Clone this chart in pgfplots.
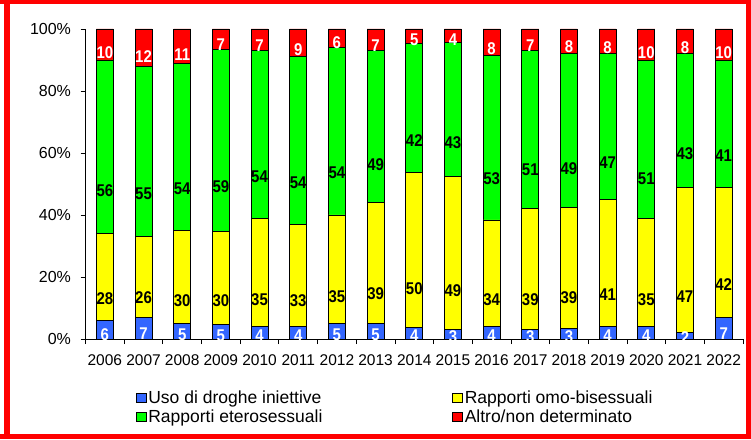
\documentclass[border=0pt]{standalone}
\usepackage{pgfplots}
\usepackage{pgfplotstable}
\pgfplotsset{compat=1.18}
\usepackage{fontspec}
\setmainfont{Liberation Sans}
\definecolor{cblue}{HTML}{3366FF}
\definecolor{cyellow}{HTML}{FFFF00}
\definecolor{cgreen}{HTML}{00FF00}
\definecolor{cred}{HTML}{FF0000}
\pgfplotstableread{
x  a    al  b     bl  c     cl  d    dl
0  6    6   28    28  56    56  10   10
1  7    7   26    26  55    55  12   12
2  5    5   30    30  54    54  11   11
3  4.8  5   29.8  30  58.7  59  6.7  7
4  4    4   35    35  54    54  7    7
5  4    4   33    33  54    54  9    9
6  5    5   35    35  54    54  6    6
7  5    5   39    39  49    49  7    7
8  3.8  4   50    50  41.4  42  4.8  5
9  3.2  3   49.2  49  43.2  43  4.4  4
10 4    4   34.4  34  53.2  53  8.4  8
11 3    3   39    39  51    51  7    7
12 3.4  3   39.1  39  49.7  49  7.8  8
13 4    4   41    41  47    47  8    8
14 4    4   35    35  51    51  10   10
15 2    2   47    47  43    43  8    8
16 7    7   42    42  41    41  10   10
}\data
\begin{document}
\begin{tikzpicture}[x=1pt,y=1pt]
\fill[white] (0,0) rectangle (751,439);
\fill[red] (0,435) rectangle (751,439);
\fill[red] (0,0) rectangle (751,5);
\fill[red] (4,0) rectangle (10,439);
\fill[red] (746,0) rectangle (751,439);
\begin{axis}[
  at={(85.5pt,100pt)}, anchor=south west,
  scale only axis, width=657.5pt, height=310pt,
  ybar stacked, bar width=17pt,
  xmin=-0.5, xmax=16.5, ymin=0, ymax=100,
  axis x line*=bottom, axis y line*=left,
  axis line style={black, line width=0.8pt},
  xtick={0,...,16},
  xticklabels={2006,2007,2008,2009,2010,2011,2012,2013,2014,2015,2016,2017,2018,2019,2020,2021,2022},
  major x tick style={draw=none},
  minor xtick={-0.5,0.5,...,16.5},
  minor x tick style={black, line width=0.8pt},
  minor tick length=5pt,
  ytick={0,20,40,60,80,100},
  yticklabels={0\%,20\%,40\%,60\%,80\%,100\%},
  y tick style={black, line width=0.8pt},
  major tick length=5pt,
  tick align=outside,
  xticklabel style={font=\fontsize{15.5}{18}\selectfont, yshift=-7pt},
  yticklabel style={font=\fontsize{16}{19}\selectfont, xshift=-6pt},
  point meta=explicit symbolic,
  nodes near coords={\scalebox{0.88}[1]{\pgfplotspointmeta}},
  nodes near coords style={font=\bfseries\fontsize{17}{19}\selectfont, anchor=center, inner sep=0pt},
  legend columns=2,
  legend cell align=left,
  legend style={draw=none, fill=none, at={(0.072,-0.155)}, anchor=north west,
    font=\fontsize{17.5}{20}\selectfont, row sep=0pt,
    /tikz/every even column/.append style={column sep=128pt}},
  legend image code/.code={\draw[#1,draw=black,line width=0.8pt] (0pt,-4.5pt) rectangle (9.5pt,4.5pt);},
]
\addplot[fill=cblue, draw=black, line width=0.8pt,
  visualization depends on={\thisrow{a} \as \rawy},
  every node near coord/.append style={text=white, yshift={-0.775pt*\rawy}}]
  table[x=x, y=a, meta=al] {\data};
\addplot[fill=cyellow, draw=black, line width=0.8pt,
  visualization depends on={\thisrow{b} \as \rawy},
  every node near coord/.append style={text=black, yshift={-0.775pt*\rawy}}]
  table[x=x, y=b, meta=bl] {\data};
\addplot[fill=cgreen, draw=black, line width=0.8pt,
  visualization depends on={\thisrow{c} \as \rawy},
  every node near coord/.append style={text=black, yshift={-0.775pt*\rawy}}]
  table[x=x, y=c, meta=cl] {\data};
\addplot[fill=cred, draw=black, line width=0.8pt,
  visualization depends on={\thisrow{d} \as \rawy},
  every node near coord/.append style={text=white, yshift={-0.775pt*\rawy}}]
  table[x=x, y=d, meta=dl] {\data};
\legend{Uso di droghe iniettive, Rapporti omo-bisessuali, Rapporti eterosessuali, Altro/non determinato}
\end{axis}
\end{tikzpicture}
\end{document}
